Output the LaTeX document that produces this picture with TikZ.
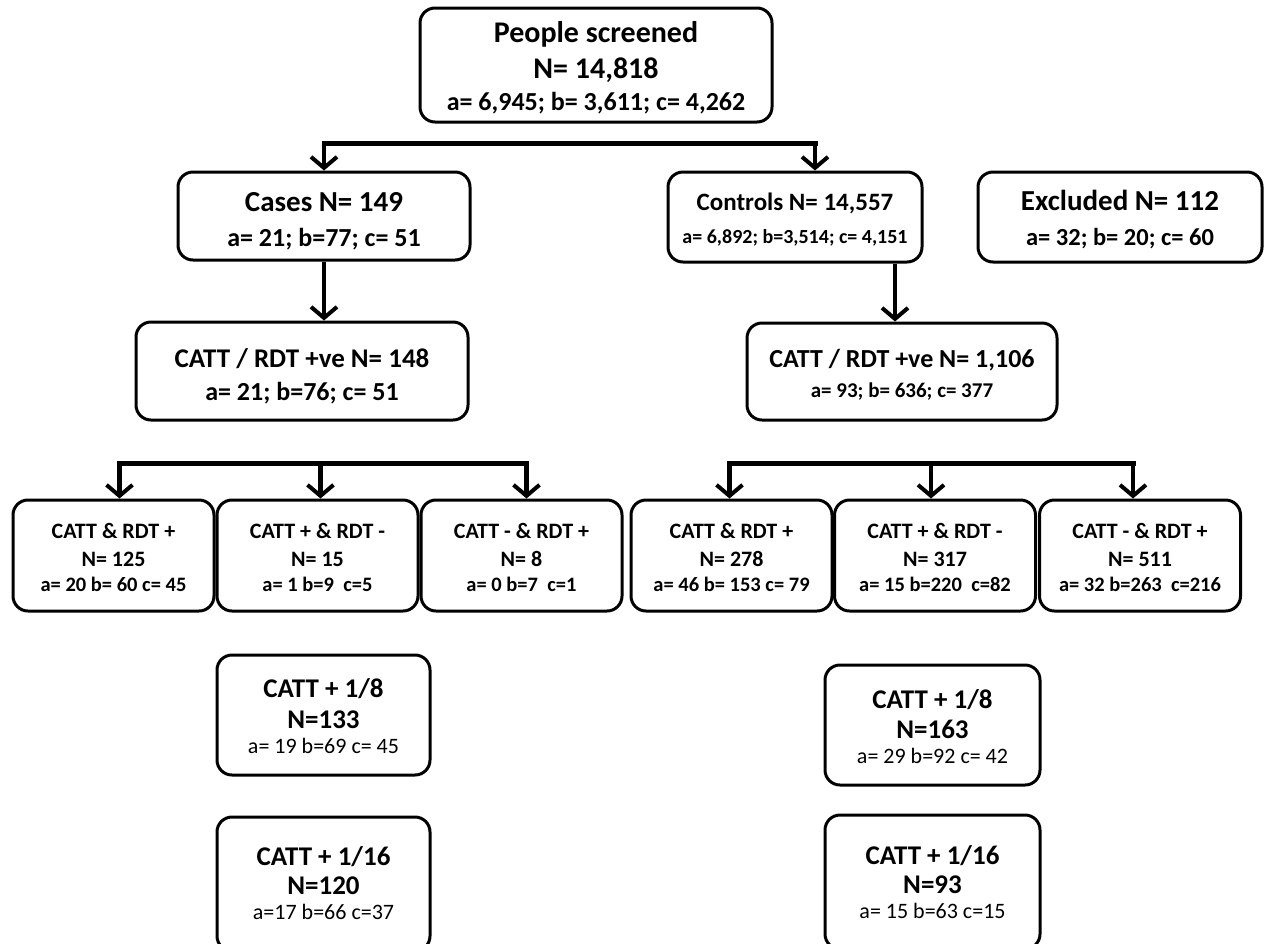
\documentclass[tikz,border=0pt]{standalone}
\usepackage{fontspec}
\setmainfont{Carlito}
\usetikzlibrary{arrows.meta}
\tikzset{
  box/.style={draw, line width=3pt, rounded corners=15pt, inner sep=0pt, fill=white},
  txt/.style={inner sep=0pt, anchor=base},
  barline/.style={line width=5pt, line cap=rect},
  arr/.style={line width=4.5pt, -{Straight Barb[length=11pt,width=26pt,line width=4pt]}},
}
\newcommand{\fs}[1]{\fontsize{#1}{#1}\selectfont}
% \Ln{name}{x}{cap-centre y}{size}{font switch}{text}
\newcommand{\Ln}[6]{\node[txt, font=#5\fs{#4}] (#1) at ({#2},{#3+0.322*#4}) {#6};}
\begin{document}
\begin{tikzpicture}[x=1pt,y=-1pt]
\useasboundingbox (0,0) rectangle (1265,943);
% level 0
\node[box, minimum width=352pt, minimum height=114pt] (top) at (596,65) {};
\Ln{topA}{596}{33}{30}{\bfseries}{People screened}
\Ln{topB}{596}{69}{30}{\bfseries}{N= 14,818}
\Ln{topC}{596}{102}{26}{\bfseries}{a= 6,945; b= 3,611; c= 4,262}
% level 1
\node[box, minimum width=292pt, minimum height=88pt] (cases) at (324,216) {};
\Ln{casesA}{324}{202}{29}{\bfseries}{Cases N= 149}
\Ln{casesB}{324}{238}{26}{\bfseries}{a= 21; b=77; c= 51}
\node[box, minimum width=254pt, minimum height=90pt] (controls) at (795,217) {};
\Ln{controlsA}{795}{202}{25}{\bfseries}{Controls N= 14,557}
\Ln{controlsB}{795}{237}{20}{\bfseries}{a= 6,892; b=3,514; c= 4,151}
\node[box, minimum width=284pt, minimum height=90pt] (excl) at (1120,217) {};
\Ln{exclA}{1120}{201}{29}{\bfseries}{Excluded N= 112}
\Ln{exclB}{1120}{238}{24.5}{\bfseries}{a= 32; b= 20; c= 60}
% level 2
\node[box, minimum width=332pt, minimum height=98pt] (catL) at (302,371) {};
\Ln{catLA}{302}{359}{27}{\bfseries}{CATT / RDT +ve N= 148}
\Ln{catLB}{302}{392}{26}{\bfseries}{a= 21; b=76; c= 51}
\node[box, minimum width=310pt, minimum height=97pt] (catR) at (902,371.5) {};
\Ln{catRA}{902}{359}{26}{\bfseries}{CATT / RDT +ve N= 1,106}
\Ln{catRB}{902}{391}{21}{\bfseries}{a= 93; b= 636; c= 377}
% level 3
\foreach \nm/\cx/\la/\lb/\lc in {
  L1/113.5/{CATT \& RDT +}/{N= 125}/{a= 20 b= 60 c= 45},
  L2/317.5/{CATT + \& RDT -}/{N= 15}/{a= 1 b=9\ \ c=5},
  L3/521.5/{CATT - \& RDT +}/{N= 8}/{a= 0 b=7\ \ c=1},
  R1/731.5/{CATT \& RDT +}/{N= 278}/{a= 46 b= 153 c= 79},
  R2/935/{CATT + \& RDT -}/{N= 317}/{a= 15 b=220\ \ c=82},
  R3/1140/{CATT - \& RDT +}/{N= 511}/{a= 32 b=263\ \ c=216}}{
  \node[box, minimum width=201pt, minimum height=111pt] (\nm) at (\cx,555.5) {};
  \Ln{\nm a}{\cx}{531}{22}{\bfseries}{\la}
  \Ln{\nm b}{\cx}{559}{22}{\bfseries}{\lb}
  \Ln{\nm c}{\cx}{585}{20.5}{\bfseries}{\lc}
}
% level 4
\node[box, minimum width=213pt, minimum height=120pt] (e8L) at (323.5,715) {};
\Ln{e8La}{323.5}{689}{27}{\bfseries}{CATT + 1/8}
\Ln{e8Lb}{323.5}{719.5}{27}{\bfseries}{N=133}
\Ln{e8Lc}{323.5}{746.5}{22}{}{a= 19 b=69 c= 45}
\node[box, minimum width=213pt, minimum height=134pt] (e16L) at (323.5,884) {};
\Ln{e16La}{323.5}{857}{27}{\bfseries}{CATT + 1/16}
\Ln{e16Lb}{323.5}{886}{27}{\bfseries}{N=120}
\Ln{e16Lc}{323.5}{912.5}{22}{}{a=17 b=66 c=37}
\node[box, minimum width=215pt, minimum height=120pt] (e8R) at (932.5,725) {};
\Ln{e8Ra}{932.5}{699.5}{27}{\bfseries}{CATT + 1/8}
\Ln{e8Rb}{932.5}{729.5}{27}{\bfseries}{N=163}
\Ln{e8Rc}{932.5}{756}{22}{}{a= 29 b=92 c= 42}
\node[box, minimum width=215pt, minimum height=134pt] (e16R) at (932.5,882) {};
\Ln{e16Ra}{932.5}{855.5}{27}{\bfseries}{CATT + 1/16}
\Ln{e16Rb}{932.5}{884.5}{27}{\bfseries}{N=93}
\Ln{e16Rc}{932.5}{911}{22}{}{a= 15 b=63 c=15}
% connectors
\coordinate (b0L) at (cases.north |- 0,143);
\coordinate (b0R) at ([xshift=20pt]controls.north |- 0,143);
\draw[barline] (b0L) -- (b0R);
\draw[arr] (b0L) -- (cases.north);
\draw[arr] (b0R) -- ([xshift=20pt]controls.north);
\draw[arr] (cases.south) -- (cases.south |- catL.north);
\draw[arr] ([xshift=100pt]controls.south) -- ([xshift=100pt]controls.south |- catR.north);
\coordinate (b2L) at ([xshift=6pt]L1.north |- 0,463);
\coordinate (b2M) at ([xshift=3pt]L2.north |- 0,463);
\coordinate (b2R) at ([xshift=5pt]L3.north |- 0,463);
\draw[barline] (b2L) -- (b2R);
\draw[arr] (b2L) -- (b2L |- L1.north);
\draw[arr] (b2M) -- (b2M |- L2.north);
\draw[arr] (b2R) -- (b2R |- L3.north);
\coordinate (b3L) at ([xshift=-2pt]R1.north |- 0,463);
\coordinate (b3M) at ([xshift=-4pt]R2.north |- 0,463);
\coordinate (b3R) at ([xshift=-7pt]R3.north |- 0,463);
\draw[barline] (b3L) -- (b3R);
\draw[arr] (b3L) -- (b3L |- R1.north);
\draw[arr] (b3M) -- (b3M |- R2.north);
\draw[arr] (b3R) -- (b3R |- R3.north);
\end{tikzpicture}
\end{document}
